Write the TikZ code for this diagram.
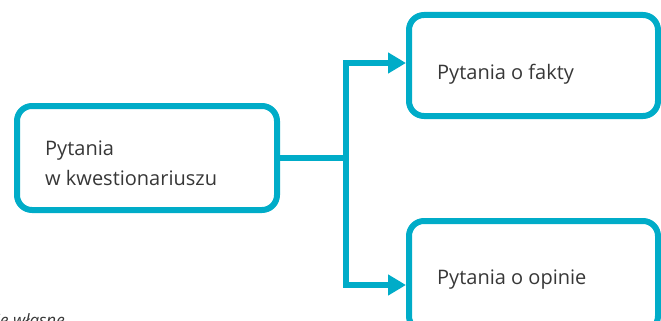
\documentclass[tikz,border=0pt]{standalone}
\usepackage{fontspec}
\setmainfont{Open Sans}
\usetikzlibrary{arrows.meta}
\definecolor{cy}{RGB}{0,172,200}
\definecolor{tx}{RGB}{55,55,55}
\begin{document}
\begin{tikzpicture}[x=1pt,y=-1pt,
  box/.style={draw=cy, line width=6pt, rounded corners=15pt, rectangle, inner sep=0pt},
  lbl/.style={anchor=base west, inner sep=0pt, text=tx, font=\fontsize{20}{30}\selectfont},
  conn/.style={draw=cy, line width=6pt},
  arr/.style={conn, -{Triangle[length=18pt,width=20pt]}}]
\useasboundingbox (0,0) rectangle (661,321);
\node[box, minimum width=260pt, minimum height=104pt] (q) at (147,158) {};
\node[box, minimum width=249pt, minimum height=101pt] (f) at (533.5,65.5) {};
\node[box, minimum width=249pt, minimum height=110pt] (o) at (533.5,276) {};
\node[lbl] (qt1) at (45,155) {Pytania};
\node[lbl] (qt2) at (45,185) {w kwestionariuszu};
\node[lbl] (ft) at (437,79) {Pytania o fakty};
\node[lbl] (ot) at (437,284) {Pytania o opinie};
\coordinate (j) at (346,158);
\draw[conn] (q.east) -- (j);
\draw[arr] (j) |- ([yshift=2.5pt]f.west);
\draw[arr] (j) |- ([yshift=-9pt]o.west);
\node[anchor=base east, inner sep=0pt, text=tx, font=\fontsize{17}{20}\itshape] (src) at (65,326) {Źródło: opracowanie własne};
\end{tikzpicture}
\end{document}
